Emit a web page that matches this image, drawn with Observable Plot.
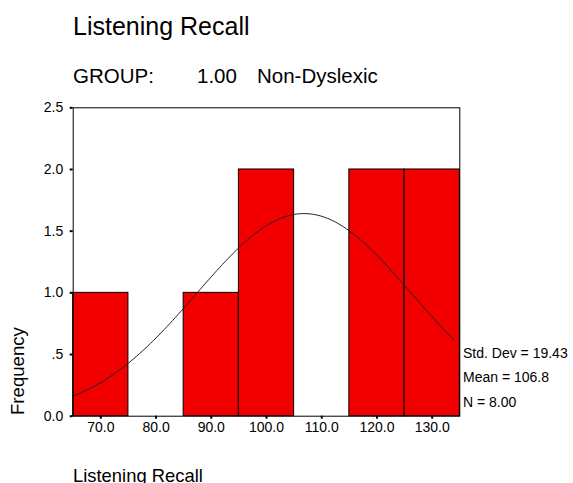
<!DOCTYPE html>
<html>
<head>
<meta charset="utf-8">
<script src="https://cdn.jsdelivr.net/npm/d3@7"></script>
<script src="https://cdn.jsdelivr.net/npm/@observablehq/plot@0.6"></script>
<style>
  html, body { margin: 0; padding: 0; background: #fff; }
</style>
</head>
<body>
<div id="chart"></div>
<script>
// Histogram of Listening Recall scores, group 1.00 (Non-Dyslexic)
const binStarts = [65, 75, 85, 95, 105, 115, 125];
const binWidth = 10;
const counts = [1, 0, 1, 2, 0, 2, 2];

const xTicks = [70, 80, 90, 100, 110, 120, 130];
const yTicks = [0, 0.5, 1.0, 1.5, 2.0, 2.5];
const yTickLabels = ["0.0", ".5", "1.0", "1.5", "2.0", "2.5"];

// Summary statistics shown beside the plot
const statSd = 19.43;
const statMean = 106.8;
const statN = 8;
const statLines = ["Std. Dev = 19.43", "Mean = 106.8", "N = 8.00"];

const titleText = "Listening Recall";
const groupParts = ["GROUP:", "1.00", "Non-Dyslexic"];
const xTitle = "Listening Recall";
const yTitle = "Frequency";

const bins = binStarts
  .map((x1, i) => ({x1, x2: x1 + binWidth, count: counts[i]}))
  .filter(d => d.count > 0);

// Normal curve with the sample's mean and SD, scaled to counts per bin
const curveXs = d3.range(65, 134.01, 0.5);
const curve = curveXs.map(x => {
  const z = (x - statMean) / statSd;
  return {x, y: statN * binWidth * Math.exp(-0.5 * z * z) / (statSd * Math.sqrt(2 * Math.PI))};
});

const W = 573, H = 483;
const mL = 72.7, mR = 113.7, mT = 107.3, mB = 67.3;

const svg = Plot.plot({
  width: W,
  height: H,
  marginLeft: mL,
  marginRight: mR,
  marginTop: mT,
  marginBottom: mB,
  style: {fontFamily: "'Liberation Sans', Arial, sans-serif", fontSize: "14px", background: "#fff", color: "#000"},
  x: {domain: [65, 135]},
  y: {domain: [0, 2.5]},
  marks: [
    Plot.rectY(bins, {x1: "x1", x2: "x2", y: "count", fill: "#f20000", stroke: "#000", strokeWidth: 1}),
    Plot.line(curve, {x: "x", y: "y", stroke: "#222", strokeWidth: 1, curve: "linear"}),
    Plot.frame({stroke: "#000", strokeWidth: 1}),
    Plot.axisX({ticks: xTicks, tickFormat: d => d.toFixed(1), tickSize: 3, tickPadding: 3, strokeWidth: 2, label: null, fontSize: 14}),
    Plot.axisY({ticks: yTicks, tickFormat: d => yTickLabels[yTicks.indexOf(d)], tickSize: 3, tickPadding: 7, strokeWidth: 2, label: null, fontSize: 14})
  ]
});

const s = d3.select(svg);
const font = "'Liberation Sans', Arial, sans-serif";

function addText(x, y, size, t, transform) {
  const el = s.append("text")
    .attr("font-family", font).attr("font-size", size)
    .attr("fill", "#000").attr("text-anchor", "start")
    .text(t);
  if (transform) el.attr("transform", transform);
  else el.attr("x", x).attr("y", y);
  return el;
}

addText(73, 35, 25, titleText);

const groupX = [73, 197, 257];
groupParts.forEach((t, i) => addText(groupX[i], 83, 20.5, t));

statLines.forEach((t, i) => addText(463, 358 + i * 24.3, 14, t));

addText(73, 481.5, 18.4, xTitle);

addText(0, 0, 18.6, yTitle, "translate(24,415) rotate(-90)");

document.getElementById("chart").appendChild(svg);
</script>
</body>
</html>
